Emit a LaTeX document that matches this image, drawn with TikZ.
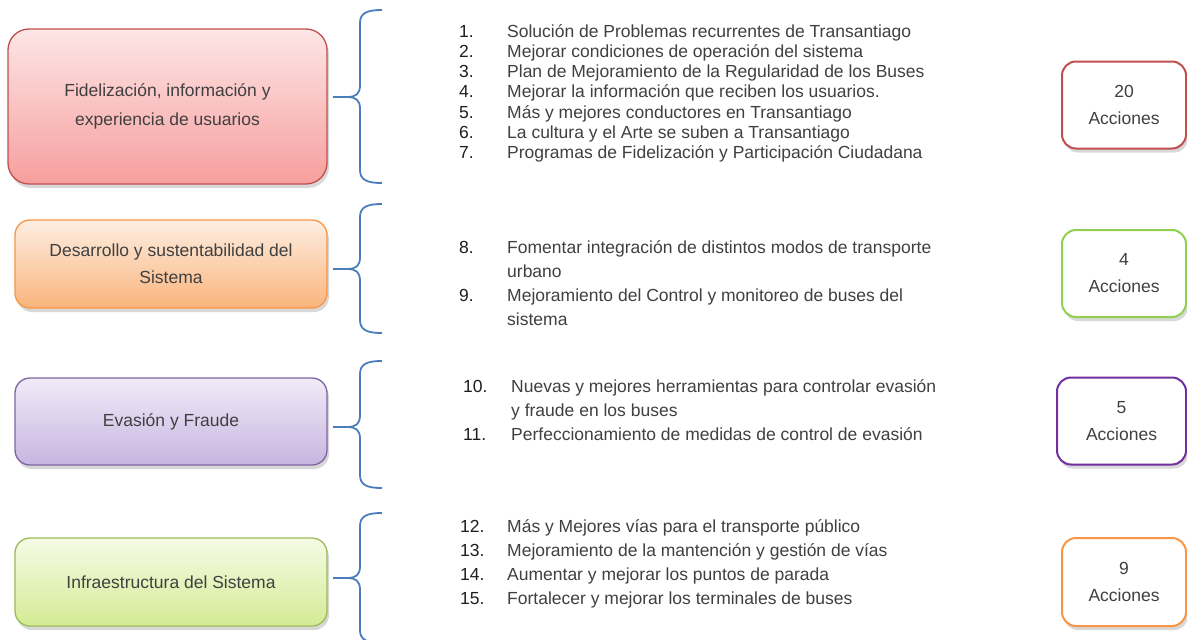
\documentclass[tikz,border=0pt]{standalone}
\usepackage{fontspec}
\setmainfont{Liberation Sans}
\usetikzlibrary{shadows}
\definecolor{boxtxt}{HTML}{404040}
\definecolor{numtxt}{HTML}{1E1E1E}
\definecolor{bracecol}{HTML}{4A7EBB}
\definecolor{redline}{HTML}{C0504D}
\definecolor{redtop}{HTML}{FDE6E6}
\definecolor{redbot}{HTML}{F79E9E}
\definecolor{orline}{HTML}{F79646}
\definecolor{ortop}{HTML}{FDEEE2}
\definecolor{orbot}{HTML}{FAB47C}
\definecolor{puline}{HTML}{8064A2}
\definecolor{putop}{HTML}{F1EBF8}
\definecolor{pubot}{HTML}{C7B5E0}
\definecolor{grline}{HTML}{9BBB59}
\definecolor{grtop}{HTML}{F6FBE6}
\definecolor{grbot}{HTML}{D4EB94}
\definecolor{rgreen}{HTML}{92D050}
\definecolor{rpurple}{HTML}{7030A0}
\newcommand\drawbrace[3]{%
  \draw[bracestyle] (382,#1) .. controls (367,#1) and (360,#1+3) .. (360,#1+13)
    -- (360,#2-12) .. controls (360,#2-3) and (356,#2) .. (347,#2) -- (333,#2);
  \draw[bracestyle] (333,#2) -- (347,#2) .. controls (356,#2) and (360,#2+3) .. (360,#2+12)
    -- (360,#3-13) .. controls (360,#3-3) and (367,#3) .. (382,#3);}
\begin{document}
\begin{tikzpicture}[x=1pt,y=-1pt,
  catbox/.style={rounded corners=15pt, line width=1.3pt, minimum width=312pt,
    inner sep=0pt, align=center, text=boxtxt, font=\fontsize{17.5}{27}\selectfont,
    drop shadow={opacity=0.3, shadow xshift=2pt, shadow yshift=-4pt}},
  countbox/.style={rounded corners=14pt, line width=2pt, fill=white,
    minimum width=124pt, minimum height=87pt, inner sep=0pt, align=center,
    text=boxtxt, font=\fontsize{17.5}{27}\selectfont,
    drop shadow={opacity=0.3, shadow xshift=2pt, shadow yshift=-4pt}},
  itemnum/.style={anchor=base west, inner sep=0pt, text=numtxt, font=\fontsize{17.5}{21}\selectfont},
  itemtxt/.style={anchor=base west, inner sep=0pt, text=boxtxt, font=\fontsize{17.5}{21}\selectfont},
  bracestyle/.style={draw=bracecol, line width=1.8pt}]
\useasboundingbox (0,0) rectangle (1187,640);
\fill[white] (0,0) rectangle (1187,640);

% category boxes
\node[catbox, rounded corners=21pt, minimum width=319pt, minimum height=155pt,
  draw=redline, top color=redtop, bottom color=redbot,
  font=\fontsize{17.5}{29}\selectfont] (c1) at (167.5,106.5)
  {Fidelización, información y\\experiencia de usuarios};
\node[catbox, minimum height=88pt, draw=orline, top color=ortop, bottom color=orbot]
  (c2) at (171,264) {Desarrollo y sustentabilidad del\\Sistema};
\node[catbox, minimum height=87pt, draw=puline, top color=putop, bottom color=pubot]
  (c3) at (171,421.5) {Evasión y Fraude};
\node[catbox, minimum height=88pt, draw=grline, top color=grtop, bottom color=grbot]
  (c4) at (171,582) {Infraestructura del Sistema};

% braces
\drawbrace{10}{97}{183}
\drawbrace{204}{269}{333}
\drawbrace{361}{427}{488}
\begin{scope}
\clip (0,0) rectangle (1187,640);
\drawbrace{513}{578}{643}
\end{scope}

% list 1
\node[itemnum] (n1) at (459,37) {1.};
\node[itemtxt] (t1) at (507,37) {Solución de Problemas recurrentes de Transantiago};
\node[itemnum] (n2) at (459,57.3) {2.};
\node[itemtxt] (t2) at (507,57.3) {Mejorar condiciones de operación del sistema};
\node[itemnum] (n3) at (459,77.6) {3.};
\node[itemtxt] (t3) at (507,77.6) {Plan de Mejoramiento de la Regularidad de los Buses};
\node[itemnum] (n4) at (459,97.9) {4.};
\node[itemtxt] (t4) at (507,97.9) {Mejorar la información que reciben los usuarios.};
\node[itemnum] (n5) at (459,118.2) {5.};
\node[itemtxt] (t5) at (507,118.2) {Más y mejores conductores en Transantiago};
\node[itemnum] (n6) at (459,138.5) {6.};
\node[itemtxt] (t6) at (507,138.5) {La cultura y el Arte se suben a Transantiago};
\node[itemnum] (n7) at (459,158.8) {7.};
\node[itemtxt] (t7) at (507,158.8) {Programas de Fidelización y Participación Ciudadana};

% list 2
\node[itemnum] (n8) at (459,253) {8.};
\node[itemtxt] (t8) at (507,253) {Fomentar integración de distintos modos de transporte};
\node[itemtxt] (t8b) at (507,277) {urbano};
\node[itemnum] (n9) at (459,301) {9.};
\node[itemtxt] (t9) at (507,301) {Mejoramiento del Control y monitoreo de buses del};
\node[itemtxt] (t9b) at (507,325) {sistema};

% list 3
\node[itemnum] (n10) at (463,392) {10.};
\node[itemtxt] (t10) at (511,392) {Nuevas y mejores herramientas para controlar evasión};
\node[itemtxt] (t10b) at (511,416) {y fraude en los buses};
\node[itemnum] (n11) at (463,440) {11.};
\node[itemtxt] (t11) at (511,440) {Perfeccionamiento de medidas de control de evasión};

% list 4
\node[itemnum] (n12) at (460,532) {12.};
\node[itemtxt] (t12) at (507,532) {Más y Mejores vías para el transporte público};
\node[itemnum] (n13) at (460,556) {13.};
\node[itemtxt] (t13) at (507,556) {Mejoramiento de la mantención y gestión de vías};
\node[itemnum] (n14) at (460,580) {14.};
\node[itemtxt] (t14) at (507,580) {Aumentar y mejorar los puntos de parada};
\node[itemnum] (n15) at (460,604) {15.};
\node[itemtxt] (t15) at (507,604) {Fortalecer y mejorar los terminales de buses};

% count boxes
\node[countbox, draw=redline] (r1) at (1124,105) {20\\Acciones};
\node[countbox, draw=rgreen] (r2) at (1124,273.5) {4\\Acciones};
\node[countbox, draw=rpurple, minimum width=129pt] (r3) at (1121.5,421) {5\\Acciones};
\node[countbox, draw=orline, minimum height=88pt] (r4) at (1124,582) {9\\Acciones};
\end{tikzpicture}
\end{document}
